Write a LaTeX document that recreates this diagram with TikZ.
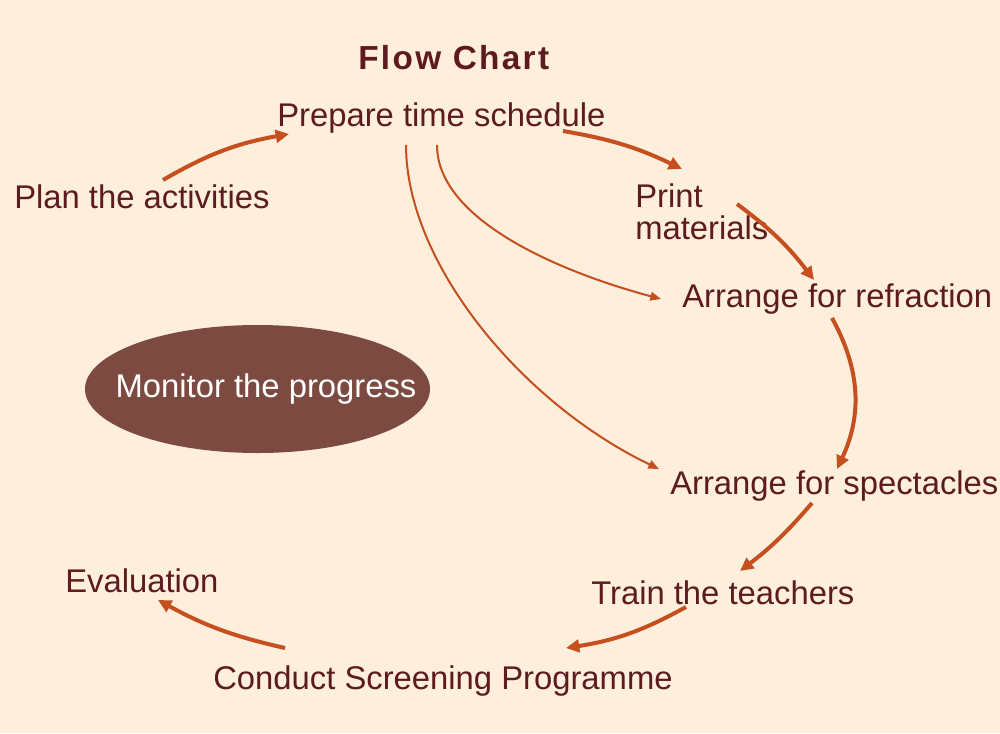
\documentclass[tikz,border=0pt]{standalone}
\usepackage{fontspec}
\setmainfont{Liberation Sans}
\newfontfamily\titlefont[LetterSpace=7]{Liberation Sans}
\usetikzlibrary{arrows.meta,shapes.geometric}
\definecolor{bgc}{HTML}{FDEFDB}
\definecolor{txtc}{HTML}{5E1B1F}
\definecolor{arrc}{HTML}{C64F1F}
\definecolor{ellc}{HTML}{7D4A41}
\begin{document}
\begin{tikzpicture}[x=0.75pt,y=-0.75pt,
  lbl/.style={inner sep=0pt, anchor=base west, text=txtc, font=\fontsize{24.6}{29}\selectfont},
  flowarrow/.style={draw=arrc, line width=3pt, -{Triangle[length=10pt,width=9.5pt]}},
  thinarrow/.style={draw=arrc, line width=1.5pt, -{Triangle[length=8pt,width=6.5pt]}}]
\fill[bgc] (0,0) rectangle (1000,733);
\useasboundingbox (0,0) rectangle (1000,733);

\node[inner sep=0pt, anchor=base west, text=txtc, font=\titlefont\bfseries\fontsize{25}{30}\selectfont] (title) at (358,69) {Flow Chart};
\node[lbl] (prep) at (277,126) {Prepare time schedule};
\node[lbl] (plan) at (14,208) {Plan the activities};
\node[lbl] (print) at (635,207) {\vtop{\baselineskip=24pt\hbox{Print}\hbox{materials}}};
\node[lbl] (refr) at (682,307) {Arrange for refraction};
\node[ellipse, fill=ellc, inner sep=0pt, minimum width=258.75pt, minimum height=96pt, text=white, font=\fontsize{24.6}{29}\selectfont] (monitor) at (257.5,389) {\makebox[0pt]{\hspace*{12.8pt}Monitor the progress}};
\node[lbl] (spec) at (670,494) {Arrange for spectacles};
\node[lbl] (train) at (591,604) {Train the teachers};
\node[lbl] (eval) at (65,592) {Evaluation};
\node[lbl] (conduct) at (213,689) {Conduct Screening Programme};

\coordinate (a1s) at (163,180); \coordinate (a1e) at (289,134);
\coordinate (a2s) at (563,131); \coordinate (a2e) at (682,169);
\coordinate (a3s) at (737,204); \coordinate (a3e) at (814,280);
\coordinate (a4s) at (832,318); \coordinate (a4e) at (837,469);
\coordinate (a5s) at (812,503); \coordinate (a5e) at (740,571);
\coordinate (a6s) at (686,607); \coordinate (a6e) at (566,648);
\coordinate (a7s) at (285,648); \coordinate (a7e) at (158,600);
\coordinate (t1s) at (437,145); \coordinate (t1e) at (661,299);
\coordinate (t2s) at (406,145); \coordinate (t2e) at (659,469);

\draw[flowarrow] (a1s) to[bend left=10] (a1e);
\draw[flowarrow] (a2s) to[bend left=8] (a2e);
\draw[flowarrow] (a3s) to[bend left=8] (a3e);
\draw[flowarrow] (a4s) to[bend left=27] (a4e);
\draw[flowarrow] (a5s) to[bend left=6] (a5e);
\draw[flowarrow] (a6s) to[bend left=10] (a6e);
\draw[flowarrow] (a7s) to[bend left=8] (a7e);
\draw[thinarrow] (t1s) .. controls (437,220) and (560,272) .. (t1e);
\draw[thinarrow] (t2s) .. controls (406,262) and (520,402) .. (t2e);
\end{tikzpicture}
\end{document}
